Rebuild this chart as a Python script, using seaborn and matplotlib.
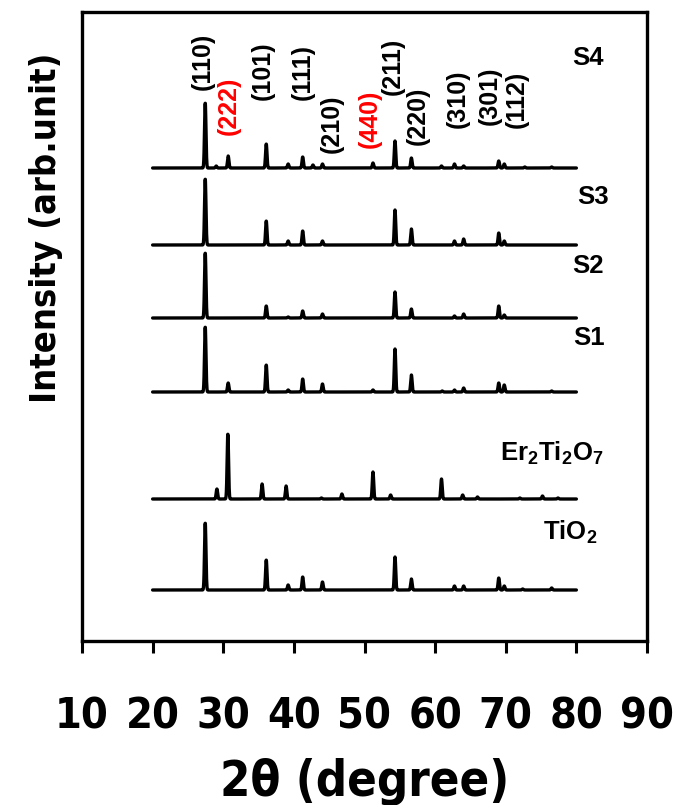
import numpy as np
import pandas as pd
import matplotlib
matplotlib.use("Agg")
import matplotlib.pyplot as plt
from matplotlib import font_manager
import seaborn as sns

# peak positions (2theta, deg) and heights
tio2_pos = [27.45, 36.09, 39.19, 41.25, 44.05, 54.32, 56.64, 62.74, 64.04, 69.01, 69.79, 72.4, 76.5]
tio2_h = [67, 30, 5, 13, 8, 33, 11, 4, 4, 12, 4, 1, 2]

er_pos = [29.1, 30.65, 35.5, 38.9, 43.9, 46.8, 51.2, 53.7, 60.9, 63.9, 66.0, 72.0, 75.2, 77.4]
er_h = [10, 65, 15, 13, 1, 5, 27, 4, 20, 4, 2, 1, 3, 1]

s1_pos = [27.45, 30.7, 36.09, 39.19, 41.25, 44.05, 51.2, 54.32, 56.64, 61.0, 62.74, 64.04, 69.01, 69.79, 76.5]
s1_h = [65, 9, 27, 2, 13, 8, 2, 43, 17, 1, 2, 4, 9, 7, 1]

s2_pos = [27.45, 36.09, 39.19, 41.25, 44.05, 54.32, 56.64, 62.74, 64.04, 69.01, 69.79]
s2_h = [65, 12, 1, 7, 4, 26, 9, 2, 4, 12, 3]

s3_pos = [27.45, 36.09, 39.19, 41.25, 44.05, 54.32, 56.64, 62.74, 64.04, 69.01, 69.79]
s3_h = [66, 24, 4, 14, 4, 35, 16, 4, 6, 12, 4]

s4_pos = [27.45, 29.0, 30.7, 36.09, 39.19, 41.25, 42.7, 44.05, 51.2, 54.32, 56.64, 60.9, 62.74, 64.04,
          69.01, 69.79, 72.7, 76.5]
s4_h = [65, 2, 12, 24, 4, 11, 3, 4, 5, 27, 10, 2, 4, 2, 7, 4, 1, 1]

names = ["TiO$\\mathregular{_2}$", "Er$\\mathregular{_2}$Ti$\\mathregular{_2}$O$\\mathregular{_7}$",
         "S1", "S2", "S3", "S4"]
offsets = [51, 142, 249, 323, 396, 473]

hkl_labels = ["(110)", "(222)", "(101)", "(111)", "(210)", "(440)", "(211)", "(220)", "(310)", "(301)", "(112)"]
hkl_x = [27.15, 30.75, 35.6, 41.3, 45.4, 50.8, 54.0, 57.6, 63.2, 67.8, 71.6]
hkl_y = [551, 506, 541, 541, 488, 493, 546, 496, 513, 516, 513]
hkl_colors = ["black", "red", "black", "black", "black", "red", "black", "black", "black", "black", "black"]

name_x = [75.3, 69.2, 79.5, 79.4, 80.1, 79.4]
name_y = [109, 188, 303, 375, 444, 583]

series = [(tio2_pos, tio2_h), (er_pos, er_h), (s1_pos, s1_h), (s2_pos, s2_h), (s3_pos, s3_h), (s4_pos, s4_h)]

two_theta = np.arange(20, 80.001, 0.02)
width = 0.1

sns.set_style("ticks")
plt.rcParams["font.family"] = ["Liberation Sans", "DejaVu Sans"]
plt.rcParams["font.weight"] = "bold"
plt.rcParams["mathtext.default"] = "regular"
plt.rcParams["text.color"] = "black"
plt.rcParams["xtick.color"] = "black"
plt.rcParams["axes.edgecolor"] = "black"
plt.rcParams["axes.labelcolor"] = "black"


# look for a narrow / condensed bold face for the big axis texts
def narrow_font(size):
    for f in font_manager.fontManager.ttflist:
        nm = f.name.lower()
        fn = f.fname.lower()
        is_narrow = ("narrow" in nm or "condensed" in nm or "condensed" in fn or "narrow" in fn
                     or f.stretch in ("condensed", "semi-condensed", "extra-condensed"))
        is_bold = f.weight in ("bold", 700, "heavy", 800) or "bold" in fn
        if is_narrow and is_bold and "oblique" not in fn and "italic" not in fn:
            return font_manager.FontProperties(fname=f.fname, size=size)
    return font_manager.FontProperties(family="Liberation Sans", weight="bold", size=size * 0.9)


fig = plt.figure(figsize=(6.73, 8.05), dpi=100)
ax = fig.add_axes([82 / 673, 1 - 641 / 805, 565 / 673, 629 / 805])

for (pos, h), off in zip(series, offsets):
    y = np.full_like(two_theta, off, dtype=float)
    for p, hh in zip(pos, h):
        y += hh * np.exp(-0.5 * ((two_theta - p) / width) ** 2)
    df = pd.DataFrame({"2theta": two_theta, "I": y})
    sns.lineplot(data=df, x="2theta", y="I", color="black", lw=2.4, ax=ax,
                 estimator=None, sort=False)

for lab, x, y, c in zip(hkl_labels, hkl_x, hkl_y, hkl_colors):
    ax.text(x, y, lab, rotation=90, ha="center", va="bottom", color=c,
            fontsize=18, fontweight="bold")

for n, x, y in zip(names, name_x, name_y):
    ax.text(x, y, n, ha="left", va="center", fontsize=18.5, fontweight="bold")

ax.set_xlim(10, 90)
ax.set_ylim(0, 629)
ax.set_xticks(range(10, 91, 10))
ax.set_yticks([])
ax.tick_params(axis="x", direction="out", length=8.5, width=2.2, pad=31)

tick_fp = narrow_font(31)
for lab in ax.get_xticklabels():
    lab.set_fontproperties(tick_fp)
for s in ax.spines.values():
    s.set_linewidth(2.4)
    s.set_visible(True)

ax.set_xlabel("2\u03b8 (degree)", fontproperties=narrow_font(35))
ax.xaxis.set_label_coords(0.5, -0.186)
ax.set_ylabel("Intensity (arb.unit)", fontproperties=narrow_font(26))
ax.yaxis.set_label_coords(-0.034, 0.657)

fig.savefig("out.png", dpi=100)
